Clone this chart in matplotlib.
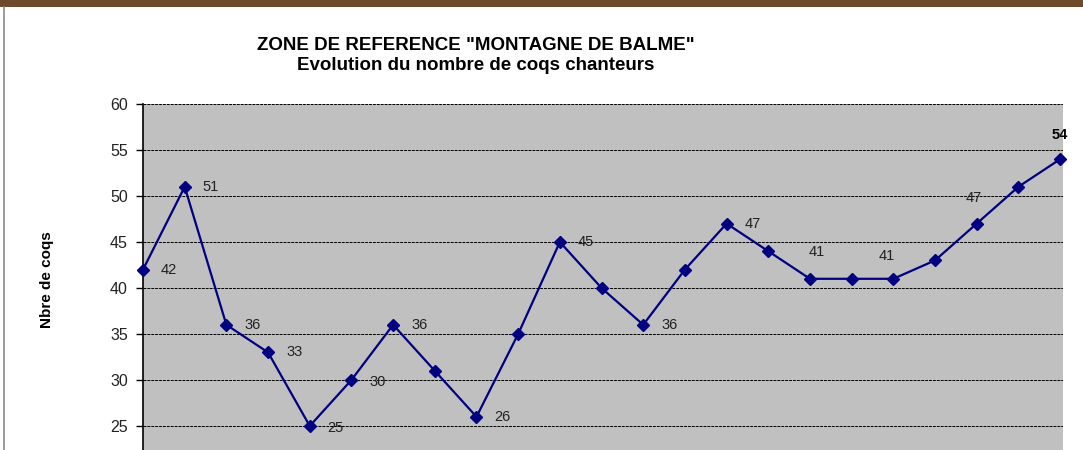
import matplotlib.pyplot as plt
from matplotlib.patches import Rectangle
from matplotlib.lines import Line2D

# Nombre de coqs chanteurs, un point par comptage (années non visibles sur la capture)
counts = [42, 51, 36, 33, 25, 30, 36, 31, 26, 35, 45, 40,
          36, 42, 47, 44, 41, 41, 41, 43, 47, 51, 54]
labelled = [0, 1, 2, 3, 4, 5, 6, 8, 10, 12, 14, 16, 18, 20, 22]
y_ticks = [25, 30, 35, 40, 45, 50, 55, 60]

# label offsets in pixels (dx, dy, ha) -- default is right of the point
label_offsets = {
    4: (18, -2, "left"),
    5: (18, -2, "left"),
    16: (7, 27, "center"),
    18: (-7, 23, "center"),
    20: (-3, 26, "center"),
    22: (0, 24, "center"),
}

plt.rcParams["font.family"] = ["Liberation Sans", "DejaVu Sans"]

W, H = 1083, 450
fig = plt.figure(figsize=(W / 100, H / 100), dpi=100)
fig.patch.set_facecolor("white")

# screenshot frame: brown strip on top and the edge of another window on the left
fig.patches.append(Rectangle((0, 1 - 7 / H), 1, 7 / H, transform=fig.transFigure,
                             facecolor="#6e4a2a", edgecolor="none", zorder=0))
fig.lines.append(Line2D([4 / W, 4 / W], [0, 1 - 7 / H], transform=fig.transFigure,
                        color="#8a8a8a", lw=1.2))

# plot area: 60 at y=104px, 9.2 px per unit, runs below the crop
top_px, unit_px, ymin = 104, 9.2, 20
bottom_px = top_px + (60 - ymin) * unit_px
ax = fig.add_axes([143 / W, 1 - bottom_px / H, 920 / W, (bottom_px - top_px) / H])
ax.set_facecolor("#c0c0c0")

x = list(range(len(counts)))
ax.plot(x, counts, color="#000080", lw=1.6, marker="D", markersize=6.5,
        markerfacecolor="#000080", markeredgecolor="#000080", zorder=3,
        clip_on=False)

for i in labelled:
    dx, dy, ha = label_offsets.get(i, (18, 0, "left"))
    bold = i == len(counts) - 1
    ax.annotate(str(counts[i]), (x[i], counts[i]), xytext=(dx, dy),
                textcoords="offset pixels", ha=ha, va="center",
                fontsize=10.5, color="black" if bold else "#222222",
                fontweight="bold" if bold else "normal", zorder=4)

ax.set_xlim(0, 22.07)
ax.set_ylim(ymin, 60)
ax.set_yticks(y_ticks)
ax.set_yticklabels([str(v) for v in y_ticks], fontsize=11.5, color="#222222")
ax.tick_params(axis="y", direction="out", length=5, width=1, pad=6)
ax.set_xticks([])
ax.grid(axis="y", color="black", linestyle=(0, (3, 1)), lw=0.7)
ax.set_axisbelow(True)
for s in ["top", "right", "bottom"]:
    ax.spines[s].set_visible(False)
ax.spines["left"].set_linewidth(1.2)

fig.text(476 / W, 1 - 45 / H, 'ZONE DE REFERENCE "MONTAGNE DE BALME"',
         ha="center", va="center", fontsize=13.5, fontweight="bold")
fig.text(476 / W, 1 - 66 / H, "Evolution du nombre de coqs chanteurs",
         ha="center", va="center", fontsize=13.5, fontweight="bold")
fig.text(47 / W, 1 - 280 / H, "Nbre de coqs", rotation=90,
         ha="center", va="center", fontsize=11, fontweight="bold")

fig.savefig("out.png", dpi=100)
